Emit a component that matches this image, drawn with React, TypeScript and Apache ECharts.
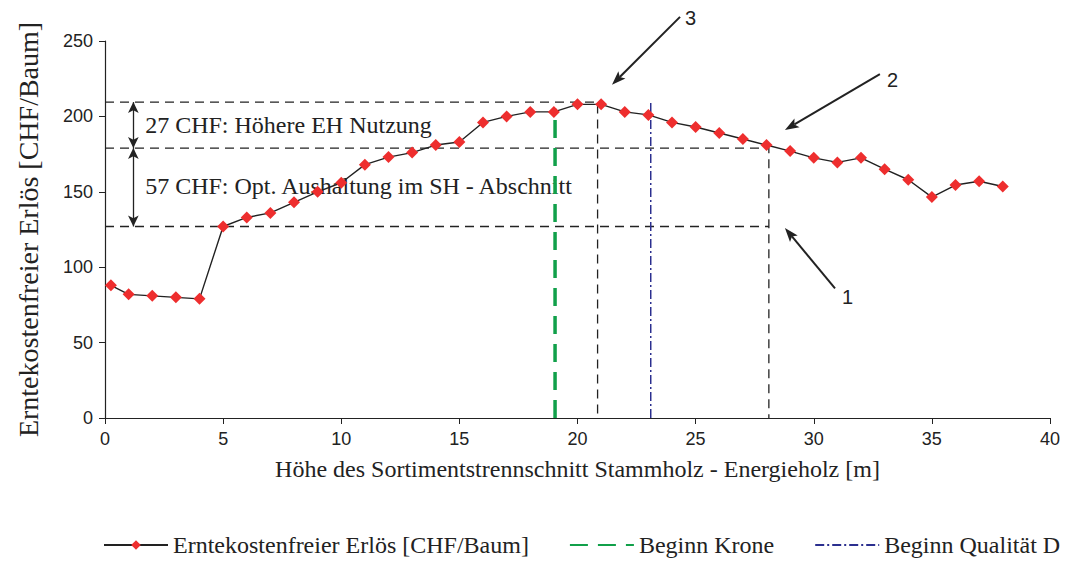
import React, { useEffect, useRef } from "react";
import * as echarts from "echarts";

// Data
const heights = [0.25, 1, 2, 3, 4, 5, 6, 7, 8, 9, 10, 11, 12, 13, 14, 15, 16, 17, 18, 19, 20, 21, 22, 23, 24, 25, 26, 27, 28, 29, 30, 31, 32, 33, 34, 35, 36, 37, 38];
const revenue = [88, 82, 81, 80, 79, 127, 133, 136, 143, 150, 156, 168, 173, 176, 181, 183, 196, 200, 203, 203, 208, 208, 203, 201, 196, 193, 189, 185, 181, 177, 172.5, 169.5, 172.5, 165, 158, 146.5, 154.5, 157, 153.5];

const kroneX = 19.05;
const qualitaetDX = 23.1;
const kroneTop = 205;
const qualitaetTop = 209;

// guide levels (CHF/Baum) and cut heights (m)
const levelOptimum = 209.5;
const levelPoint2 = 179;
const levelPoint1 = 127;
const cutOptimum = 20.85;
const cutPoint2 = 28.1;
const bracketX = 1.2;

const xTicks = { min: 0, max: 40, interval: 5 };
const yTicks = { min: 0, max: 250, interval: 50 };

const label27 = "27 CHF: Höhere EH Nutzung";
const label57 = "57 CHF: Opt. Aushaltung im SH - Abschnitt";

// annotation arrows: [tailX, tailY, headX, headY, label, labelX, labelY]
const arrows: [number, number, number, number, string, number, number][] = [
  [24.34, 266, 21.46, 221, "3", 24.55, 265],
  [32.8, 228, 28.78, 191, "2", 33.1, 224],
  [30.9, 86, 28.78, 126, "1", 31.2, 80],
];

const serif = "'Liberation Serif', 'Times New Roman', serif";
const sans = "'Liberation Sans', Arial, sans-serif";

export default function App() {
  const ref = useRef<HTMLDivElement>(null);
  useEffect(() => {
    document.body.style.margin = "0";
    const chart = echarts.init(ref.current!, undefined, { renderer: "svg" });
    const dashed = { color: "#222", width: 1.3, type: [9, 6] as number[] };
    const hiddenSymbol = { color: "rgba(0,0,0,0)", borderWidth: 0 };
    const option: any = {
      animation: false,
      backgroundColor: "#fff",
      grid: { left: 105, right: 35, top: 41, bottom: 146 },
      xAxis: {
        type: "value",
        ...xTicks,
        name: "Höhe des Sortimentstrennschnitt Stammholz - Energieholz [m]",
        nameLocation: "middle",
        nameGap: 39,
        nameTextStyle: { fontFamily: serif, fontSize: 24, color: "#222" },
        axisLine: { lineStyle: { color: "#222", width: 1.2 } },
        axisTick: { show: true, length: 6, lineStyle: { color: "#222" } },
        axisLabel: { fontFamily: sans, fontSize: 18, color: "#222", margin: 12 },
        splitLine: { show: false },
      },
      yAxis: {
        type: "value",
        ...yTicks,
        name: "Erntekostenfreier Erlös [CHF/Baum]",
        nameLocation: "middle",
        nameGap: 63,
        nameTextStyle: { fontFamily: serif, fontSize: 28, color: "#222" },
        axisLine: { show: true, lineStyle: { color: "#222", width: 1.2 } },
        axisTick: { show: true, length: 6, lineStyle: { color: "#222" } },
        axisLabel: { fontFamily: sans, fontSize: 18, color: "#222", margin: 12 },
        splitLine: { show: false },
      },
      legend: {
        bottom: 2,
        left: 98,
        width: 1200,
        itemWidth: 64,
        itemHeight: 12,
        itemGap: 40,
        textStyle: { fontFamily: serif, fontSize: 24, color: "#222" },
        data: [
          { name: "Erntekostenfreier Erlös [CHF/Baum]" },
          { name: "Beginn Krone", itemStyle: hiddenSymbol },
          { name: "Beginn Qualität D", itemStyle: hiddenSymbol },
        ],
      },
      series: [
        {
          name: "guide-optimum",
          type: "line",
          symbol: "none",
          data: [[0, levelOptimum], [cutOptimum, levelOptimum], [cutOptimum, 0]],
          lineStyle: dashed,
          silent: true,
          markLine: {
            silent: true,
            symbol: ["arrow", "arrow"],
            symbolSize: [8, 11],
            label: { show: false },
            lineStyle: { color: "#222", width: 1.3, type: "solid" },
            data: [
              [{ coord: [bracketX, levelOptimum] }, { coord: [bracketX, levelPoint2] }],
              [{ coord: [bracketX, levelPoint2] }, { coord: [bracketX, levelPoint1] }],
            ],
          },
        },
        {
          name: "guide-2",
          type: "line",
          symbol: "none",
          data: [[0, levelPoint2], [cutPoint2, levelPoint2], [cutPoint2, 0]],
          lineStyle: dashed,
          silent: true,
        },
        {
          name: "guide-1",
          type: "line",
          symbol: "none",
          data: [[0, levelPoint1], [cutPoint2, levelPoint1]],
          lineStyle: dashed,
          silent: true,
        },
        {
          name: "Beginn Krone",
          type: "line",
          symbol: "none",
          data: [[kroneX, 0], [kroneX, kroneTop]],
          lineStyle: { color: "#11a04a", width: 3.5, type: [18, 10] },
          itemStyle: { color: "#11a04a" },
        },
        {
          name: "Beginn Qualität D",
          type: "line",
          symbol: "none",
          data: [[qualitaetDX, 0], [qualitaetDX, qualitaetTop]],
          lineStyle: { color: "#2b2f8f", width: 1.5, type: [9, 3, 2, 3] },
          itemStyle: { color: "#2b2f8f" },
        },
        {
          name: "Erntekostenfreier Erlös [CHF/Baum]",
          type: "line",
          symbol: "diamond",
          symbolSize: 12,
          data: heights.map((h, i) => [h, revenue[i]]),
          lineStyle: { color: "#222", width: 1.4 },
          itemStyle: { color: "#ee2e2e" },
          z: 5,
        },
      ],
    };
    chart.setOption(option);

    const px = (x: number, y: number) => chart.convertToPixel({ gridIndex: 0 }, [x, y]) as number[];
    const graphic: any[] = [];
    arrows.forEach(([tx, ty, hx, hy, lab, lx, ly]) => {
      const t = px(tx, ty);
      const h = px(hx, hy);
      const dx = h[0] - t[0];
      const dy = h[1] - t[1];
      const len = Math.hypot(dx, dy);
      const ux = dx / len;
      const uy = dy / len;
      const hl = 14;
      const hw = 5;
      const bx = h[0] - ux * hl;
      const by = h[1] - uy * hl;
      graphic.push({
        type: "line",
        shape: { x1: t[0], y1: t[1], x2: bx + ux * 3, y2: by + uy * 3 },
        style: { stroke: "#222", lineWidth: 2 },
      });
      graphic.push({
        type: "polygon",
        shape: {
          points: [
            [h[0], h[1]],
            [bx - uy * hw, by + ux * hw],
            [bx + ux * 3, by + uy * 3],
            [bx + uy * hw, by - ux * hw],
          ],
        },
        style: { fill: "#222" },
      });
      const l = px(lx, ly);
      graphic.push({
        type: "text",
        x: l[0],
        y: l[1],
        style: { text: lab, font: `20px ${sans}`, fill: "#222", align: "left", verticalAlign: "middle" },
      });
    });
    const p27 = px(1.7, (levelOptimum + levelPoint2) / 2);
    const p57 = px(1.7, (levelPoint2 + levelPoint1) / 2 + 1);
    graphic.push({
      type: "text",
      x: p27[0],
      y: p27[1],
      style: { text: label27, font: `24px ${serif}`, fill: "#222", verticalAlign: "middle" },
    });
    graphic.push({
      type: "text",
      x: p57[0],
      y: p57[1],
      style: { text: label57, font: `24px ${serif}`, fill: "#222", verticalAlign: "middle" },
    });
    chart.setOption({ graphic });

    return () => chart.dispose();
  }, []);
  return <div ref={ref} style={{ width: 1085, height: 564 }} />;
}
